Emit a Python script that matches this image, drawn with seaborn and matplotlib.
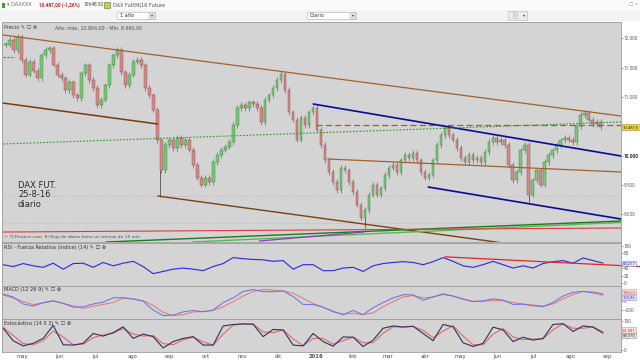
import numpy as np
import pandas as pd
import matplotlib
matplotlib.use('Agg')
import matplotlib.pyplot as plt
from matplotlib.patches import Rectangle
import seaborn as sns

# ---------------- data ----------------
# DAX future closes, sampled roughly every 2 trading days (abr 2015 - 25 ago 2016)
close = [11890, 11970, 11800, 12020, 11630, 11380, 11600, 11450, 11320, 11710,
         11800, 11830, 11550, 11380, 11320, 11120, 11250, 11030, 10980, 11400,
         11540, 11290, 11150, 10860, 10950, 11200, 11540, 11710, 11800, 11420,
         11200, 11380, 11600, 11630, 11540, 11150, 11030, 10780, 10260, 9750,
         10180, 10270, 10130, 10300, 10180, 10270, 10100, 9840, 9620, 9500,
         9620, 9550, 9890, 10010, 10100, 10150, 10230, 10520, 10810, 10860,
         10810, 10910, 10880, 10810, 10570, 10950, 11030, 11150, 11290, 11390,
         11120, 10740, 10610, 10270, 10640, 10520, 10740, 10810, 10440, 10180,
         9920, 9720, 9550, 9410, 9790, 9750, 9550, 9380, 9160, 8940,
         9070, 9330, 9500, 9330, 9440, 9670, 9790, 9840, 9720, 9920,
         10010, 9960, 10050, 9920, 9720, 9620, 9670, 9920, 10180, 10350,
         10470, 10350, 10270, 10130, 9960, 9890, 10010, 9920, 9960, 9890,
         10060, 10230, 10300, 10230, 10270, 10180, 9840, 9580, 9720, 10090,
         10180, 9330, 9580, 9750, 9500, 9890, 10010, 10090, 10180, 10260,
         10300, 10270, 10230, 10500, 10690, 10730, 10610, 10540, 10570, 10487]
price_start, price_end = '2015-04-17', '2016-08-26'

# a few long lower shadows
spike_dates = ['2015-08-24', '2016-02-11', '2016-06-27']
spike_lows = [9290, 8760, 9200]

# indicators, sampled every ~8 days
rsi = [49, 44, 52, 46, 42, 53, 37, 52, 53, 42,
       55, 46, 53, 58, 44, 25, 31, 37, 40, 37,
       33, 44, 52, 68, 65, 63, 62, 58, 60, 37,
       49, 49, 33, 33, 40, 42, 31, 46, 52, 55,
       57, 55, 49, 57, 68, 58, 46, 42, 49, 58,
       49, 40, 46, 40, 52, 57, 60, 53, 67, 60, 53]
macd = [144, 80, -71, -114, -43, 0, -57, -140, -130, -71,
        -30, 60, 65, 35, -10, -200, -320, -310, -240, -210,
        -236, -200, -40, 60, 200, 240, 195, 193, 210, 90,
        -80, -80, -140, -230, -300, -210, -300, -150, -40, 60,
        129, 125, 10, 80, 150, 100, 30, -20, -5, 40,
        10, -80, -75, -110, -125, -40, 100, 180, 200, 170, 121]
macd_signal = [122, 60, -21, -86, -43, -10, -60, -110, -164, -120,
               -80, -40, 52, 40, 0, -100, -250, -320, -300, -240,
               -236, -210, -130, -20, 100, 200, 240, 230, 210, 160,
               50, -60, -140, -240, -290, -270, -300, -260, -130, -20,
               80, 110, 60, 80, 130, 100, 40, -10, -10, 0,
               0, -40, -70, -90, -120, -70, 40, 130, 200, 190, 150]
stoch_k = [75, 32, 14, 23, 40, 85, 18, 17, 23, 57,
           48, 60, 80, 40, 55, 46, 7, 29, 40, 46,
           17, 17, 83, 88, 90, 89, 46, 71, 69, 17,
           14, 57, 29, 13, 45, 44, 12, 34, 75, 83,
           79, 82, 57, 32, 88, 80, 25, 12, 23, 79,
           69, 29, 44, 34, 40, 88, 91, 64, 83, 79, 58]
stoch_d = [78, 50, 22, 18, 32, 65, 45, 18, 20, 42,
           52, 58, 74, 55, 48, 50, 22, 18, 35, 44,
           28, 17, 55, 86, 90, 90, 62, 60, 70, 38,
           15, 40, 40, 20, 32, 45, 25, 25, 58, 80,
           80, 81, 68, 42, 65, 84, 48, 18, 18, 55,
           74, 45, 36, 38, 38, 70, 90, 75, 75, 80, 62]
ind_start, ind_end = '2015-04-15', '2016-08-28'

# hand drawn trend lines: (date, price) pairs
upper_channel = [('2015-04-15', 12056), ('2016-09-12', 10674)]
lower_channel = [('2015-04-15', 10895), ('2015-08-22', 10538)]
lower_channel2 = [('2015-08-22', 9310), ('2016-09-12', 8235)]
brown_dashed = [('2016-01-01', 10521), ('2016-09-12', 10521)]
brown_mid = [('2016-01-11', 9941), ('2016-09-12', 9719)]
blue_upper = [('2015-12-30', 10879), ('2016-09-12', 9992)]
blue_lower = [('2016-04-04', 9463), ('2016-09-12', 8917)]
green_dotted = [('2015-04-15', 10197), ('2016-09-12', 10572)]
green_short = [('2015-04-15', 11681), ('2015-04-25', 11681)]
green_solid = [('2015-07-10', 8525), ('2016-09-12', 8883)]
green_light = [('2015-09-20', 8525), ('2016-09-12', 8860)]
red_line = [('2015-04-15', 8695), ('2016-09-12', 8764)]
purple_line = [('2015-11-15', 8542), ('2016-02-10', 8695)]
gray_dotted = [9310, 8850]
rsi_trend = [('2016-04-18', 70), ('2016-09-28', 44)]

last_price = 10487
rsi_last, macd_last, signal_last, k_last, d_last = '53,217', '120,86', '149,63', '58,370', '61,581'
months_es = ['ene', 'feb', 'mar', 'abr', 'may', 'jun', 'jul', 'ago', 'sep', 'oct', 'nov', 'dic']

# ---------------- figure ----------------
sns.set_style('white')
plt.rcParams['font.family'] = ['DejaVu Sans']

W, H = 640, 361
fig = plt.figure(figsize=(W / 100, H / 100), dpi=100)
fig.patch.set_facecolor('white')
x_start, x_end = pd.Timestamp('2015-04-14'), pd.Timestamp('2016-09-12')


def fx(px):
    return px / W


def fy(py):
    return 1 - py / H


def panel(top, bottom):
    ax = fig.add_axes([fx(2), fy(bottom), fx(619), (bottom - top) / H])
    ax.set_facecolor('#d4d4d4')
    for s in ax.spines.values():
        s.set_color('#9a9a9a')
        s.set_linewidth(0.6)
    ax.set_xlim(x_start, x_end)
    ax.yaxis.tick_right()
    ax.tick_params(axis='y', labelsize=3.4, colors='#606060', length=1.5, width=0.4, pad=0.6)
    ax.tick_params(axis='x', bottom=False, labelbottom=False)
    ax.set_xlabel('')
    ax.set_ylabel('')
    return ax


def tline(ax, pts, **kw):
    xs = [pd.Timestamp(p[0]) for p in pts]
    ys = [p[1] for p in pts]
    ax.plot(xs, ys, **kw)


def value_box(ax, y, txt, fc, ec, tc):
    ax.text(1.003, y, txt, transform=ax.get_yaxis_transform(), fontsize=3.1, color=tc,
            family='Roboto', va='center', ha='left', clip_on=False,
            bbox=dict(boxstyle='square,pad=0.12', fc=fc, ec=ec, lw=0.4))


def roboto_ticks(ax):
    for lab in ax.get_yticklabels():
        lab.set_family('Roboto')


# ---- top toolbar ----
fig.add_artist(Rectangle((0, fy(21)), 1, 21 / H, transform=fig.transFigure,
                         fc='#f3f3f3', ec='none'))
fig.add_artist(Rectangle((0, fy(10)), 1, 10 / H, transform=fig.transFigure,
                         fc='#fafafa', ec='none'))
fig.add_artist(Rectangle((fx(2), fy(8)), fx(3), 5 / H, transform=fig.transFigure,
                         fc='#3aa03a', ec='none'))
fig.text(fx(7), fy(5), '\u25be DAXXXX', fontsize=3.6, color='#707070', va='center')
fig.text(fx(39), fy(5), '10.487,00 (-1,26%)', fontsize=3.4, color='#d02020',
         family='Roboto', weight='bold', va='center')
fig.text(fx(84), fy(5), '10h48:32', fontsize=3.5, color='#404040', family='Roboto',
         va='center')
fig.add_artist(Rectangle((fx(104), fy(8)), fx(6), 6 / H, transform=fig.transFigure,
                         fc='#e8c040', ec='#3a8a3a', lw=0.4))
fig.text(fx(113), fy(5), 'DAX Fut09|16 Future', fontsize=3.6, color='#505050', va='center')
for bx0, bx1, label in [(117, 155, '1 año'), (307, 356, 'Diario')]:
    fig.add_artist(Rectangle((fx(bx0), fy(19)), fx(bx1 - bx0), 7 / H,
                             transform=fig.transFigure, fc='white', ec='#b0b0b0', lw=0.4))
    fig.add_artist(Rectangle((fx(bx1 - 6), fy(18.5)), fx(5.5), 6 / H,
                             transform=fig.transFigure, fc='#e4e4e4', ec='#b0b0b0', lw=0.3))
    fig.text(fx(bx1 - 3.3), fy(15.5), '\u25be', fontsize=3, color='#333', ha='center', va='center')
    fig.text(fx(bx0 + 3), fy(15.5), label, fontsize=3.6, color='#303030', va='center')
fig.add_artist(Rectangle((fx(508), fy(20)), fx(19), 9 / H, transform=fig.transFigure,
                         fc='#ececec', ec='#b8b8b8', lw=0.4))
fig.text(fx(515), fy(15.5), '\u2591', fontsize=5, color='#50a050', ha='center', va='center')
fig.text(fx(524), fy(15.5), '\u25be', fontsize=3, color='#333', ha='center', va='center')
fig.text(fx(638), fy(4), '_ \u25a1 \u00d7', fontsize=3, color='#909090', ha='right', va='center')

# ---- price panel ----
ax_p = panel(22, 242)
ax_p.set_ylim(8525, 12278)
dates = pd.date_range(price_start, price_end, periods=len(close))
c = np.array(close, dtype=float)
o = np.r_[c[0], c[:-1]]
lo = np.minimum(o, c)
hi = np.maximum(o, c)
up = c >= o
wick = 45
ax_p.vlines(dates, lo - wick, hi + wick, color='#7a7a7a', lw=0.6, zorder=2)
spike_idx = [dates.get_indexer([pd.Timestamp(d)], method='nearest')[0] for d in spike_dates]
ax_p.vlines(pd.to_datetime(spike_dates), spike_lows, lo[spike_idx],
            color='#505050', lw=0.6, zorder=2)
body = np.maximum(hi - lo, 15)
ax_p.bar(dates[up], body[up], bottom=lo[up], width=2.2, color='#78c878',
         edgecolor='#3c7a3c', linewidth=0.3, zorder=3)
ax_p.bar(dates[~up], body[~up], bottom=lo[~up], width=2.2, color='#d48a8a',
         edgecolor='#8a4a4a', linewidth=0.3, zorder=3)

for lvl in gray_dotted:
    ax_p.axhline(lvl, color='#b0b0b0', lw=0.5, ls=(0, (1, 1.5)), zorder=1)
tline(ax_p, upper_channel, color='#a0622a', lw=0.9, zorder=4)
tline(ax_p, lower_channel, color='#7a3c0a', lw=1.1, zorder=4)
tline(ax_p, lower_channel2, color='#7a420e', lw=1.0, zorder=4)
tline(ax_p, brown_dashed, color='#a0622a', lw=0.9, ls=(0, (5, 2.5)), zorder=4)
tline(ax_p, brown_mid, color='#a0622a', lw=0.9, zorder=4)
tline(ax_p, blue_upper, color='#0a0a9a', lw=1.2, zorder=4)
tline(ax_p, blue_lower, color='#0a0a9a', lw=1.2, zorder=4)
tline(ax_p, green_dotted, color='#2a9a2a', lw=0.8, ls=(0, (1.5, 1.5)), zorder=4)
tline(ax_p, green_short, color='#2a9a2a', lw=0.8, ls=(0, (2, 1.5)), zorder=4)
tline(ax_p, green_light, color='#58b858', lw=1.0, zorder=4)
tline(ax_p, green_solid, color='#1c7c1c', lw=1.0, zorder=4)
tline(ax_p, red_line, color='#e03a3a', lw=0.8, zorder=4)
tline(ax_p, purple_line, color='#8a3cc8', lw=0.9, zorder=4)

price_ticks = [9000, 9500, 10000, 11000, 11500, 12000]
ax_p.set_yticks(price_ticks, [f'{t:,}'.replace(',', '.') for t in price_ticks])
roboto_ticks(ax_p)
for t, lab in zip(price_ticks, ax_p.get_yticklabels()):
    if t == 10000:
        lab.set_fontweight('bold')
        lab.set_color('#303030')
value_box(ax_p, last_price, '10.487,0', '#f2d23c', '#b09020', '#303030')

ax_p.text(0.004, 0.985, 'Precio \u270e \u2610 \u2297', transform=ax_p.transAxes, fontsize=3.6,
          color='#404040', va='top')
ax_p.text(0.086, 0.985, 'Año: máx. 10.804,00 - Mín. 8.690,00', transform=ax_p.transAxes,
          fontsize=3.4, color='#505050', va='top')
ax_p.text(0.004, 0.015, '\u00a9 IT-Finance.com  El flujo de datos tiene un retraso de 15 min',
          transform=ax_p.transAxes, fontsize=3.2, color='#505050', va='bottom')
for txt, ypx in [('DAX FUT.', 185), ('25-8-16', 194.5), ('diario', 204)]:
    ax_p.text(fx(18), fy(ypx), txt, transform=fig.transFigure, fontsize=6,
              color='#2a2a2a', va='center')

# ---- indicator panels ----
ind_dates = pd.date_range(ind_start, ind_end, periods=len(rsi))

ax_r = panel(243, 286)
ax_r.set_ylim(-8, 107)
sns.lineplot(x=ind_dates, y=rsi, ax=ax_r, color='#2828e0', lw=0.8)
tline(ax_r, rsi_trend, color='#e02828', lw=0.9, clip_on=False)
ax_r.set_yticks([0, 20, 40, 80, 100])
roboto_ticks(ax_r)
value_box(ax_r, 53.2, rsi_last, '#e4e4ee', '#8888bb', '#2828e0')
ax_r.text(0.004, 0.97, 'RSI - Fuerza Relativa (índice) (14) \u270e \u2610 \u2297',
          transform=ax_r.transAxes, fontsize=3.6, color='#303030', va='top')

ax_m = panel(286, 319)
ax_m.set_ylim(-393, 316)
sns.lineplot(x=ind_dates, y=macd_signal, ax=ax_m, color='#e07a6a', lw=0.7)
sns.lineplot(x=ind_dates, y=macd, ax=ax_m, color='#6a6af0', lw=0.7)
ax_m.set_yticks([-200, 0])
roboto_ticks(ax_m)
value_box(ax_m, 190, signal_last, '#f4e0e0', '#d09090', '#d04040')
value_box(ax_m, 75, macd_last, '#e4e4f4', '#9090c8', '#4040d0')
ax_m.text(0.004, 0.96, 'MACD (12 26 9) \u270e \u2610 \u2297', transform=ax_m.transAxes,
          fontsize=3.6, color='#303030', va='top')

ax_s = panel(319, 352)
ax_s.set_ylim(-7, 107)
sns.lineplot(x=ind_dates, y=stoch_d, ax=ax_s, color='#e06a6a', lw=0.8)
sns.lineplot(x=ind_dates, y=stoch_k, ax=ax_s, color='#303060', lw=0.8)
ax_s.set_yticks([0, 100])
roboto_ticks(ax_s)
value_box(ax_s, 69, d_last, '#f4e0e0', '#d09090', '#d04040')
value_box(ax_s, 51, k_last, '#e8e8e8', '#909090', '#303030')
ax_s.text(0.004, 0.96, 'Estocástico (14 5 3) \u270e \u2610 \u2297', transform=ax_s.transAxes,
          fontsize=3.6, color='#303030', va='top')

# month labels
month_ticks = pd.date_range('2015-05-01', '2016-09-01', freq='MS')
month_labels = [str(d.year) if d.month == 1 else months_es[d.month - 1] for d in month_ticks]
ax_s.set_xticks(month_ticks, month_labels)
ax_s.tick_params(axis='x', bottom=True, labelbottom=True, labelsize=3.8, colors='#505050',
                 length=0, pad=1.5)
for lab in ax_s.get_xticklabels():
    if lab.get_text() == '2016':
        lab.set_fontweight('bold')
for ax in (ax_p, ax_r, ax_m):
    ax.set_xticks(month_ticks)
    ax.tick_params(axis='x', bottom=False, labelbottom=False)
for ax in (ax_p, ax_r, ax_m, ax_s):
    ax.set_xlim(x_start, x_end)
    ax.set_xlabel('')
    ax.set_ylabel('')

fig.savefig('out.png', dpi=100)
